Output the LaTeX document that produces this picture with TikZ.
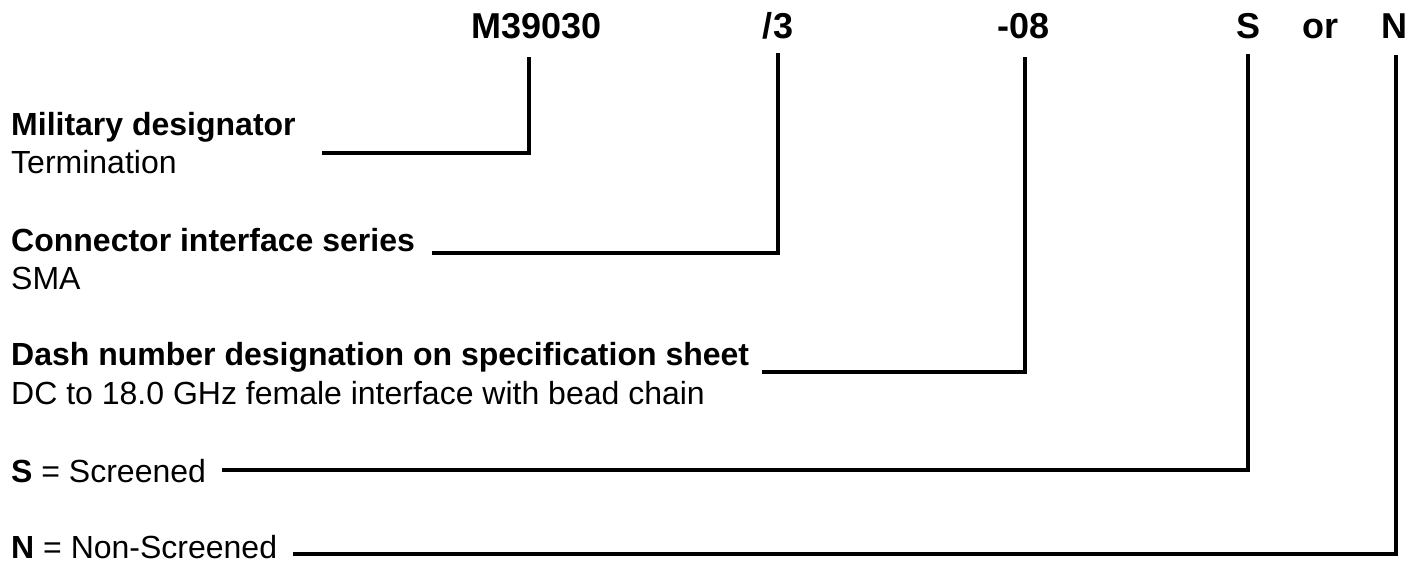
\documentclass[tikz,border=0pt]{standalone}
\usepackage{fontspec}
\setmainfont{Liberation Sans}
\begin{document}
\begin{tikzpicture}[x=1pt,y=-1pt,
  toplabel/.style={inner sep=0pt,anchor=base,font=\fontsize{36}{40}\selectfont\bfseries},
  desc/.style={inner sep=0pt,anchor=base west,font=\fontsize{32}{38}\selectfont},
  conn/.style={line width=3.5pt,line join=miter}]
\useasboundingbox (0,0) rectangle (1422,561);
% top code parts
\node[toplabel] (pM) at (536.5,39) {M39030};
\node[toplabel] (p3) at (778,39) {/3};
\node[toplabel] (p08) at (1024,39) {-08};
\node[toplabel] (pS) at (1248.5,39) {S};
\node[toplabel] (por) at (1320.5,39) {or};
\node[toplabel] (pN) at (1394,39) {N};
% descriptions
\node[desc] (dMil) at (11,136) {\bfseries Military designator};
\node[desc] (dTerm) at (11,174) {Termination};
\node[desc] (dCon) at (11,252) {\bfseries Connector interface series};
\node[desc] (dSMA) at (11,290) {SMA};
\node[desc] (dDash) at (11,366) {\bfseries Dash number designation on specification sheet};
\node[desc] (dDC) at (11,404) {DC to 18.0 GHz female interface with bead chain};
\node[desc] (dS) at (11,482) {\textbf{S} = Screened};
\node[desc] (dN) at (11,558) {\textbf{N} = Non-Screened};
% connector end points
\coordinate (aM) at (322,153);  \coordinate (bM) at (529,57);
\coordinate (a3) at (432,253);  \coordinate (b3) at (778,53);
\coordinate (a08) at (762,372); \coordinate (b08) at (1025,57);
\coordinate (aS) at (222,470);  \coordinate (bS) at (1248,54);
\coordinate (aN) at (293,554);  \coordinate (bN) at (1396,55);
\draw[conn] (aM) -| (bM);
\draw[conn] (a3) -| (b3);
\draw[conn] (a08) -| (b08);
\draw[conn] (aS) -| (bS);
\draw[conn] (aN) -| (bN);
\end{tikzpicture}
\end{document}
